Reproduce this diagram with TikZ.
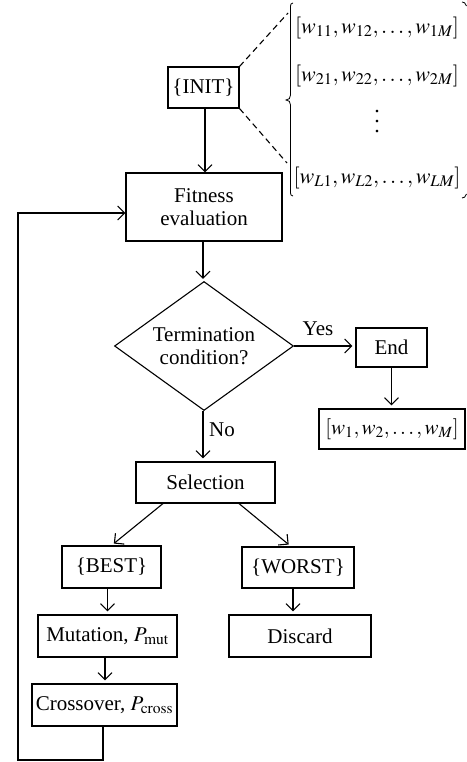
\documentclass[tikz,border=0pt]{standalone}
\usepackage{mathptmx}
\usepackage{fontspec}
\setmainfont{Liberation Serif}
\usetikzlibrary{arrows.meta,shapes.geometric}
\newcommand{\myvdots}{\vbox{\baselineskip=10pt \lineskiplimit=-20pt \hbox{.}\hbox{.}\hbox{.}}}
\tikzset{
  txt/.style={font=\fontsize{21pt}{23.5pt}\selectfont, inner sep=0pt, align=center},
  rowtxt/.style={font=\fontsize{22pt}{24pt}\selectfont, inner sep=0pt},
  box/.style={txt, draw, line width=1.1pt, minimum width=#1},
  arr/.style={line width=1.1pt, -{Straight Barb[length=7pt,width=14pt,line width=1.1pt]}},
  con/.style={line width=1.1pt},
}
\begin{document}
\begin{tikzpicture}[x=1pt,y=-1pt]
\useasboundingbox (0,0) rectangle (466,762);
% nodes
\node[box=71pt, minimum height=41pt] (init) at (203.5,87.5) {\{INIT\}};
\node[box=156pt, minimum height=68pt] (fit) at (204,207) {Fitness\\evaluation};
\node[txt, draw, line width=1.1pt, shape=diamond, aspect=1.39, minimum width=179pt, minimum height=129pt] (dia) at (204,346) {Termination\\condition?};
\node[box=71pt, minimum height=39pt] (end) at (391.5,347.5) {End};
\node[box=146pt, minimum height=40pt] (wres) at (392,429) {$[w_1, w_2, \ldots, w_M]$};
\node[box=139pt, minimum height=41pt] (sel) at (205.5,482.5) {Selection};
\node[box=99pt, minimum height=42pt] (best) at (111.5,567) {\{BEST\}};
\node[box=112pt, minimum height=41pt] (worst) at (298,567.5) {\{WORST\}};
\node[box=139pt, minimum height=42pt] (mut) at (107.5,636) {Mutation, $P_{\mathrm{mut}}$};
\node[box=142pt, minimum height=42pt] (disc) at (300,636) {Discard};
\node[box=145pt, minimum height=42pt] (cross) at (104.5,705) {Crossover, $P_{\mathrm{cross}}$};
\node[txt] (yes) at (318,329) {Yes};
\node[txt] (no) at (222,430) {No};
% population
\node[rowtxt] (r1) at (377,28) {$[w_{11}, w_{12}, \ldots, w_{1M}]$};
\node[rowtxt] (r2) at (377,76) {$[w_{21}, w_{22}, \ldots, w_{2M}]$};
\node[rowtxt] (r3) at (377,122) {\myvdots};
\node[rowtxt] (r4) at (377,178) {$[w_{L1}, w_{L2}, \ldots, w_{LM}]$};
\coordinate (d1) at (288,13);
\coordinate (d2) at (287,163);
\draw[con, dashed, dash pattern=on 6pt off 4pt] (init.north east) -- (d1);
\draw[con, dashed, dash pattern=on 6pt off 4pt] (init.south east) -- (d2);
\draw[line width=0.8pt] (293,3) .. controls (291,3) and (290.5,4) .. (290.5,8) -- (290.5,95)
  .. controls (290.5,98) and (289,100) .. (286,100) .. controls (289,100) and (290.5,102) .. (290.5,105)
  -- (290.5,191) .. controls (290.5,195) and (291,196) .. (293,196);
\draw[line width=0.8pt] (462,2) .. controls (464,2) and (465.5,3) .. (466.5,6);
\draw[line width=0.8pt] (462,198) .. controls (464,198) and (465.5,197) .. (466.5,194);
% connectors
\draw[arr] ([xshift=1.5pt]init.south) -- ([xshift=1.5pt]init.south |- fit.north);
\draw[arr, shorten >=2pt] ([xshift=-1pt]fit.south) -- ([xshift=-1pt]dia.north);
\draw[arr, shorten >=3pt] (dia.east) -- (dia.east -| end.west);
\draw[arr, shorten >=3pt] (end.south) -- (end.south |- wres.north);
\draw[arr, shorten >=3pt] ([xshift=-1pt]dia.south) -- ([xshift=-1pt]dia.south |- sel.north);
\draw[arr, shorten >=3pt] ([xshift=-42.5pt]sel.south) -- (best.north);
\draw[arr, shorten >=3pt] ([xshift=33.5pt]sel.south) -- ([xshift=-7pt]worst.north);
\draw[arr, shorten >=3pt] (best.south -| mut.north) -- (mut.north);
\draw[arr, shorten >=3pt] ([xshift=-5pt]worst.south) -- ([xshift=-5pt]worst.south |- disc.north);
\draw[arr, shorten >=3pt] ([xshift=-2.5pt]mut.south) -- ([xshift=-2.5pt]mut.south |- cross.north);
\coordinate (lp) at (18,760);
\draw[arr] ([xshift=-1.5pt]cross.south) |- (lp) |- ([yshift=-6pt]fit.west);
\end{tikzpicture}
\end{document}
